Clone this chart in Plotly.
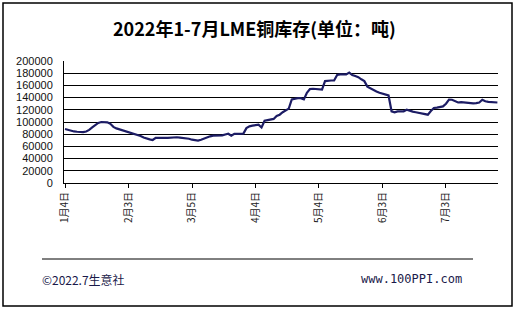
import plotly.graph_objects as go

# LME copper stocks, one value per trading day (tonnes)
stocks = [
    88500, 87000, 85500, 84500, 84000, 83500, 83500, 84500, 87000, 91000,
    95000, 98500, 100000, 100000, 99500, 97000, 92000, 89500, 88000, 86000,
    84500, 83000, 81500, 80000, 78500, 77000, 74500, 72500, 71500, 70500,
    74000, 74000, 73500, 74000, 74000, 74500, 74500, 75000, 74500, 74000,
    73500, 72500, 71000, 70500, 69500, 71000, 73000, 75000, 76500, 77500,
    77500, 77000, 78000, 79500, 80800, 77500, 80500, 80500, 80500, 81000,
    90000, 92800, 94000, 95000, 95600, 91000, 102000, 103000, 104000, 105000,
    110000, 112000, 116000, 119000, 122000, 137000, 138500, 139000, 139000, 137000,
    148000, 154000, 154500, 154000, 154500, 153000, 167000, 168000, 168000, 168000,
    177000, 178000, 178000, 178000, 181000, 177000, 175500, 173500, 170000, 167000,
    158000, 155000, 152000, 150000, 148000, 146500, 145000, 143500, 117500, 116000,
    117500, 117500, 117500, 120000, 118000, 117000, 116000, 115000, 114000, 113000,
    112000, 118000, 123000, 123500, 124500, 125600, 130000, 136600, 136500, 134000,
    132000, 132500, 132000, 131500, 130000, 130500, 131000, 132000, 136500, 134000,
    133000, 132500, 132000, 132000,
]
tick_labels = ["1月4日", "2月3日", "3月5日", "4月4日", "5月4日", "6月3日", "7月3日"]
tick_positions = [0, 21, 42, 63, 84, 105, 126]
title_text = "2022年1-7月LME铜库存(单位：吨)"
footer_left = "©2022.7生意社"
footer_right = "www.100PPI.com"

x = list(range(len(stocks)))

fig = go.Figure()
fig.add_trace(go.Scatter(x=x, y=stocks, mode="lines",
                         line=dict(color="#1c1c64", width=2.2),
                         hoverinfo="skip", showlegend=False))

W, H = 517, 310
L, R, T, B = 64, 19, 61, 127
pw, ph = W - L - R, H - T - B

def px(v):
    return (v - L) / pw

def py(v):
    return (H - B - v) / ph

fig.update_layout(
    width=W, height=H,
    margin=dict(l=L, r=R, t=T, b=B),
    paper_bgcolor="white", plot_bgcolor="white",
    font=dict(family="Liberation Sans, Arial, sans-serif", color="black"),
    xaxis=dict(range=[-0.33, 143.2], tickmode="array", tickvals=tick_positions,
               ticktext=tick_labels, tickangle=-90, ticks="outside", ticklen=4,
               tickcolor="black", tickfont=dict(size=10, family="Noto Sans CJK SC", color="#222"),
               showgrid=False, showline=True, linecolor="black", linewidth=1,
               zeroline=False, fixedrange=True),
    yaxis=dict(range=[0, 200000], dtick=20000, tickformat="d",
               showgrid=True, gridcolor="black", gridwidth=1,
               showline=True, linecolor="black", linewidth=1,
               zeroline=False, ticks="", ticklabelstandoff=8,
               tickfont=dict(size=11, color="#111"),
               fixedrange=True),
    shapes=[
        dict(type="rect", xref="paper", yref="paper",
             x0=px(3), x1=px(512), y0=py(306), y1=py(3),
             line=dict(color="black", width=1.5), fillcolor="rgba(0,0,0,0)", layer="below"),
        dict(type="line", xref="paper", yref="paper",
             x0=px(42), x1=px(473), y0=py(259), y1=py(259),
             line=dict(color="black", width=1)),
    ],
    annotations=[
        dict(text="<b>" + title_text + "</b>", xref="paper", yref="paper", x=px(254), y=py(28),
             xanchor="center", yanchor="middle", showarrow=False,
             font=dict(size=18, family="Noto Sans CJK SC", color="black")),
        dict(text=footer_left, xref="paper", yref="paper", x=px(40), y=py(279),
             xanchor="left", yanchor="middle", showarrow=False,
             font=dict(size=12, family="Noto Sans CJK SC", color="#1a1a4a")),
        dict(text=footer_right, xref="paper", yref="paper", x=px(464), y=py(279),
             xanchor="right", yanchor="middle", showarrow=False,
             font=dict(size=12, family="DejaVu Sans Mono", color="#1a1a4a")),
    ],
)

fig.write_html("out.html")
